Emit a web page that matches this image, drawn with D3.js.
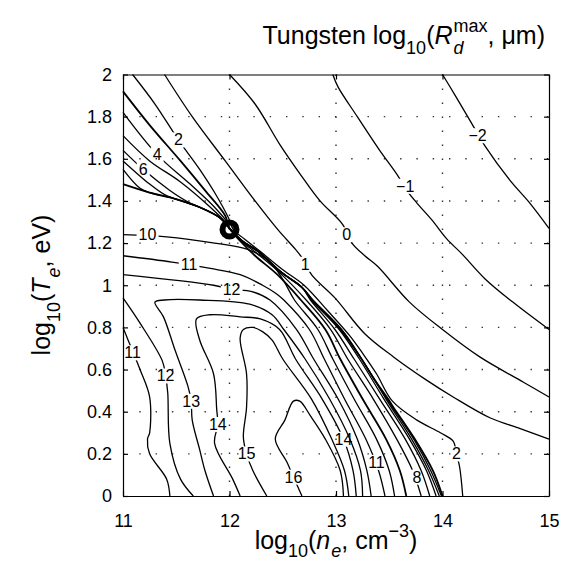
<!DOCTYPE html>
<html>
<head>
<meta charset="utf-8">
<script src="https://cdn.jsdelivr.net/npm/d3@7"></script>
<style>
  body { margin: 0; background: #fff; }
  text { font-family: "Liberation Sans", Arial, Helvetica, sans-serif; fill: #000; }
</style>
</head>
<body>
<div id="chart"></div>
<script>
// assi e griglia
const xTicks = [11, 12, 13, 14, 15];
const yTicks = [0, 0.2, 0.4, 0.6, 0.8, 1, 1.2, 1.4, 1.6, 1.8, 2];
const xGrid = [12, 13, 14];
const yGrid = [0.2, 0.4, 0.6, 0.8, 1, 1.2, 1.4, 1.6, 1.8];

// curve di livello: [log10 n_e, log10 T_e]
const cM2 = [[14.00,2.00],[14.12,1.90],[14.26,1.78],[14.40,1.66],[14.63,1.50],[14.82,1.39],[15.00,1.27]];
const cM1 = [[12.97,2.00],[13.02,1.94],[13.20,1.80],[13.41,1.64],[13.58,1.52],[13.65,1.46],[13.76,1.39],[13.90,1.31],[14.04,1.22],[14.18,1.15],[14.40,1.03],[14.66,0.92],[15.00,0.79]];
const c0 = [[12.00,2.00],[12.24,1.86],[12.47,1.67],[12.66,1.53],[12.85,1.40],[13.06,1.29],[13.15,1.20],[13.27,1.14],[13.39,1.09],[13.69,0.92],[14.00,0.79],[14.35,0.66],[14.76,0.54],[15.00,0.47]];
const c1 = [[11.39,2.00],[11.65,1.80],[11.96,1.59],[12.24,1.40],[12.46,1.26],[12.62,1.17],[12.71,1.11],[12.77,1.05],[12.99,0.94],[13.27,0.77],[13.54,0.66],[13.85,0.55],[14.10,0.47],[14.45,0.37],[14.73,0.32],[15.00,0.27]];
const c2 = [[11.09,2.00],[11.30,1.86],[11.52,1.69],[11.72,1.55],[11.86,1.44],[11.99,1.32],[12.04,1.26],[12.14,1.22],[12.29,1.16],[12.51,1.07],[12.70,1.00],[12.92,0.88],[13.13,0.76],[13.26,0.67],[13.38,0.58],[13.53,0.45],[13.76,0.36],[13.98,0.30],[14.10,0.26],[14.13,0.20],[14.16,0.14],[14.19,0.00]];

// tratti comuni: linea spessa a sinistra e cresta sotto il cerchio
const tLine = [[11.00,1.48],[11.25,1.44],[11.49,1.41],[11.72,1.37],[11.91,1.32],[12.00,1.27]];
const ridgeTop = [[12.00,1.27],[12.12,1.21],[12.27,1.16],[12.49,1.06],[12.68,0.99]];

const c3 = [[11.00,1.92],[11.25,1.76],[11.54,1.59],[11.77,1.45],[11.96,1.33]].concat(ridgeTop,
  [[12.78,0.93],[12.90,0.87],[13.05,0.79],[13.11,0.75],[13.24,0.65],[13.35,0.56],[13.49,0.46],[13.54,0.42],[13.74,0.27],[13.91,0.12],[14.00,0.00]]);
const c4 = [[11.00,1.82],[11.32,1.62],[11.63,1.48],[11.86,1.37],[11.99,1.29]].concat(ridgeTop,
  [[12.78,0.93],[13.05,0.79],[13.24,0.65],[13.48,0.46],[13.73,0.27],[13.89,0.12],[13.99,0.00]]);
const c5 = [[11.00,1.71],[11.25,1.59],[11.54,1.49],[11.82,1.37],[11.96,1.30]].concat(ridgeTop,
  [[12.78,0.93],[13.04,0.79],[13.24,0.65],[13.47,0.46],[13.71,0.27],[13.87,0.12],[13.97,0.00]]);
const c6 = [[11.00,1.64],[11.19,1.55],[11.44,1.45],[11.63,1.39]].concat(tLine.slice(3), ridgeTop.slice(1),
  [[12.77,0.93],[13.03,0.79],[13.22,0.65],[13.45,0.46],[13.69,0.27],[13.85,0.12],[13.94,0.00]]);
const c7 = [[11.00,1.59],[11.25,1.48],[11.39,1.43]].concat(tLine.slice(2), ridgeTop.slice(1),
  [[12.76,0.93],[12.99,0.79],[13.17,0.65],[13.41,0.46],[13.65,0.27],[13.80,0.12],[13.88,0.00]]);
const c8 = [[11.00,1.55],[11.16,1.46]].concat(tLine.slice(1),
  [[12.11,1.21],[12.26,1.15],[12.47,1.06],[12.72,0.93],[12.95,0.79],[13.11,0.65],[13.35,0.46],[13.57,0.27],[13.72,0.12],[13.80,0.00]]);
const c9 = tLine.concat(
  [[12.10,1.21],[12.24,1.14],[12.45,1.05],[12.67,0.93],[12.90,0.79],[13.04,0.65],[13.25,0.46],[13.47,0.27],[13.60,0.12],[13.66,0.00]]);
const c10 = [[11.00,1.24],[11.41,1.23],[11.86,1.20],[12.17,1.17],[12.38,1.11],[12.51,1.02],[12.61,0.93],[12.83,0.79],[12.97,0.65],[13.17,0.46],[13.38,0.27],[13.50,0.12],[13.55,0.00]];
const c11a = [[11.00,1.14],[11.46,1.11],[11.82,1.08],[12.10,1.05],[12.31,1.00],[12.44,0.96],[12.51,0.93],[12.75,0.79],[12.89,0.65],[13.08,0.46],[13.28,0.27],[13.40,0.12],[13.46,0.00]];
const c11b = [[11.00,0.80],[11.04,0.75],[11.16,0.60],[11.25,0.47],[11.25,0.30],[11.23,0.27],[11.25,0.20],[11.41,0.08],[11.44,0.00]];
const c12a = [[11.00,1.05],[11.85,1.00],[12.02,0.98],[12.21,0.97],[12.38,0.93],[12.63,0.79],[12.79,0.65],[13.02,0.46],[13.20,0.27],[13.29,0.12],[13.33,0.00]];
const c12b = [[11.00,0.94],[11.16,0.82],[11.37,0.64],[11.40,0.57],[11.42,0.49],[11.44,0.25],[11.54,0.08],[11.66,0.00]];
const c13 = [[11.85,0.00],[11.77,0.12],[11.72,0.22],[11.65,0.36],[11.64,0.45],[11.61,0.52],[11.49,0.69],[11.38,0.85],[11.30,0.92],[11.39,0.93],[11.72,0.93],[12.19,0.91],[12.40,0.86],[12.51,0.79],[12.71,0.65],[12.94,0.46],[13.13,0.27],[13.23,0.12],[13.25,0.00]];
const c14 = [[12.10,0.00],[12.03,0.08],[11.86,0.25],[11.89,0.34],[11.88,0.41],[11.85,0.58],[11.72,0.74],[11.69,0.84],[11.82,0.86],[12.10,0.85],[12.29,0.84],[12.47,0.79],[12.62,0.65],[12.87,0.46],[13.07,0.27],[13.16,0.12],[13.19,0.00]];
const c15 = [[12.35,0.00],[12.22,0.12],[12.16,0.20],[12.13,0.28],[12.16,0.42],[12.16,0.58],[12.10,0.75],[12.13,0.79],[12.22,0.80],[12.31,0.78],[12.40,0.74],[12.50,0.65],[12.77,0.46],[12.96,0.27],[13.08,0.12],[13.12,0.00]];
const c16 = [[12.68,0.00],[12.60,0.09],[12.54,0.16],[12.43,0.27],[12.52,0.36],[12.60,0.45],[12.66,0.45],[12.76,0.38],[12.90,0.27],[13.04,0.12],[13.07,0.00]];

// cerchio
const marker = [12.0, 1.265];

// etichette: testo, x, y, linea
const contourLabels = [
  ["\u22122", 14.33, 1.71, "cM2"], ["\u22121", 13.65, 1.47, "cM1"], ["0", 13.10, 1.24, "c0"],
  ["1", 12.71, 1.10, "c1"], ["2", 11.52, 1.69, "c2"], ["2", 14.13, 0.20, "c2"],
  ["4", 11.32, 1.62, "c4"], ["6", 11.19, 1.55, "c6"], ["8", 13.76, 0.09, "c8"],
  ["10", 11.23, 1.24, "c10"], ["11", 11.62, 1.10, "c11a"], ["11", 13.38, 0.16, "c11a"],
  ["11", 11.09, 0.68, "c11b"], ["12", 12.02, 0.98, "c12a"], ["12", 11.40, 0.57, "c12b"],
  ["13", 11.64, 0.45, "c13"], ["14", 11.89, 0.34, "c14"], ["14", 13.07, 0.27, "c14"],
  ["15", 12.16, 0.20, "c15"], ["16", 12.60, 0.09, "c16"]
];

const contourLines = [
  {id: "cM2", pts: cM2}, {id: "cM1", pts: cM1}, {id: "c0", pts: c0}, {id: "c1", pts: c1},
  {id: "c2", pts: c2}, {id: "c3", pts: c3, w: 1.8}, {id: "c4", pts: c4}, {id: "c5", pts: c5},
  {id: "c6", pts: c6}, {id: "c7", pts: c7}, {id: "c8", pts: c8}, {id: "c9", pts: c9, w: 1.8},
  {id: "c10", pts: c10}, {id: "c11a", pts: c11a}, {id: "c11b", pts: c11b},
  {id: "c12a", pts: c12a}, {id: "c12b", pts: c12b}, {id: "c13", pts: c13},
  {id: "c14", pts: c14}, {id: "c15", pts: c15}, {id: "c16", pts: c16}
];

var width = 571, height = 561;
var pLeft = 123, pRight = 549, pTop = 74.5, pBottom = 496;

var svg = d3.select("#chart").append("svg")
  .attr("width", width)
  .attr("height", height);

var x = d3.scaleLinear().domain([11, 15]).range([pLeft, pRight]);
var y = d3.scaleLinear().domain([0, 2]).range([pBottom, pTop]);

// griglia tratteggiata
svg.append("g").selectAll("line").data(xGrid).enter().append("line")
  .attr("x1", d => x(d)).attr("x2", d => x(d))
  .attr("y1", pTop).attr("y2", pBottom)
  .attr("stroke", "#333").attr("stroke-width", 1.4)
  .attr("stroke-dasharray", "1.4,12.6");
svg.append("g").selectAll("line").data(yGrid).enter().append("line")
  .attr("x1", pLeft).attr("x2", pRight)
  .attr("y1", d => y(d)).attr("y2", d => y(d))
  .attr("stroke", "#333").attr("stroke-width", 1.4)
  .attr("stroke-dasharray", "1.4,14.9");

var defs = svg.append("defs");
var linesG = svg.append("g");
var labelsG = svg.append("g");

// etichette prima, per misurarle
var labelBoxes = {};
contourLabels.forEach(l => {
  var t = labelsG.append("text")
    .attr("x", x(l[1])).attr("y", y(l[2]))
    .attr("dy", "0.35em")
    .attr("text-anchor", "middle")
    .style("font-size", "16px")
    .text(l[0]);
  var b = t.node().getBBox();
  (labelBoxes[l[3]] = labelBoxes[l[3]] || []).push(b);
});

var line = d3.line()
  .x(d => x(d[0])).y(d => y(d[1]))
  .curve(d3.curveCatmullRom.alpha(0.5));

contourLines.forEach(c => {
  var m = defs.append("mask").attr("id", "m-" + c.id)
    .attr("maskUnits", "userSpaceOnUse")
    .attr("x", 0).attr("y", 0).attr("width", width).attr("height", height);
  m.append("rect").attr("width", width).attr("height", height).attr("fill", "#fff");
  (labelBoxes[c.id] || []).forEach(b => {
    m.append("rect").attr("x", b.x - 2).attr("y", b.y + 1)
      .attr("width", b.width + 4).attr("height", b.height - 2).attr("fill", "#000");
  });
  linesG.append("path")
    .attr("d", line(c.pts))
    .attr("fill", "none")
    .attr("stroke", "#000")
    .attr("stroke-width", c.w || 1.3)
    .attr("stroke-linejoin", "round")
    .attr("mask", "url(#m-" + c.id + ")");
});

// cerchio
svg.append("circle")
  .attr("cx", x(marker[0])).attr("cy", y(marker[1]))
  .attr("r", 7)
  .attr("fill", "none").attr("stroke", "#000").attr("stroke-width", 6);

// assi con tacche interne
var fmt = d => String(+d.toFixed(1));
var ax = svg.append("g").attr("transform", `translate(0,${pBottom})`)
  .call(d3.axisBottom(x).tickValues(xTicks).tickSizeInner(-5).tickSizeOuter(0).tickPadding(18).tickFormat(fmt));
var ay = svg.append("g").attr("transform", `translate(${pLeft},0)`)
  .call(d3.axisLeft(y).tickValues(yTicks).tickSizeInner(-5).tickSizeOuter(0).tickPadding(11).tickFormat(fmt));
var at = svg.append("g").attr("transform", `translate(0,${pTop})`)
  .call(d3.axisTop(x).tickValues(xTicks).tickSizeInner(-5).tickSizeOuter(0).tickFormat(""));
var ar = svg.append("g").attr("transform", `translate(${pRight},0)`)
  .call(d3.axisRight(y).tickValues(yTicks).tickSizeInner(-5).tickSizeOuter(0).tickFormat(""));
[ax, ay, at, ar].forEach(a => {
  a.selectAll("path, line").attr("stroke", "#000").attr("stroke-width", 1.2);
  a.selectAll("text").style("font-size", "18px").attr("fill", "#000")
    .style("font-family", "'Liberation Sans', Arial, sans-serif");
});

// testo con pedici e apici
function richText(g, parts, fs, subOff) {
  var cx = 0, stack = 0;
  subOff = subOff || 0.38;
  parts.forEach(p => {
    var mode = p[1], small = mode !== "n";
    var x0 = mode === "stack" ? stack : cx;
    var dy = (mode === "sub" || mode === "stack") ? fs * subOff : (mode === "sup" ? -fs * 0.48 : 0);
    var t = g.append("text").attr("x", x0).attr("y", dy)
      .style("font-size", (small ? fs * 0.72 : fs) + "px")
      .style("font-style", p[2] ? "italic" : "normal")
      .text(p[0]);
    var w = t.node().getComputedTextLength();
    if (mode === "sup") stack = x0;
    cx = Math.max(cx, x0 + w + (p[2] && !small ? fs * 0.04 : 0));
  });
  return cx;
}

var tg = svg.append("g");
var tw = richText(tg, [["Tungsten log", "n"], ["10", "sub"], ["(", "n"], ["R", "n", true],
  ["max", "sup"], ["d", "stack", true], [", \u03bcm)", "n"]], 25);
tg.attr("transform", `translate(${545 - tw},44)`);

var xg = svg.append("g");
var xw = richText(xg, [["log", "n"], ["10", "sub"], ["(", "n"], ["n", "n", true], ["e", "sub", true],
  [", cm", "n"], ["\u22123", "sup"], [")", "n"]], 25, 0.32);
xg.attr("transform", `translate(${336 - xw / 2},549)`);

var yg = svg.append("g");
var yw = richText(yg, [["log", "n"], ["10", "sub"], ["(", "n"], ["T", "n", true], ["e", "sub", true],
  [", eV)", "n"]], 25);
yg.attr("transform", `translate(50,${285 + yw / 2}) rotate(-90)`);
</script>
</body>
</html>
